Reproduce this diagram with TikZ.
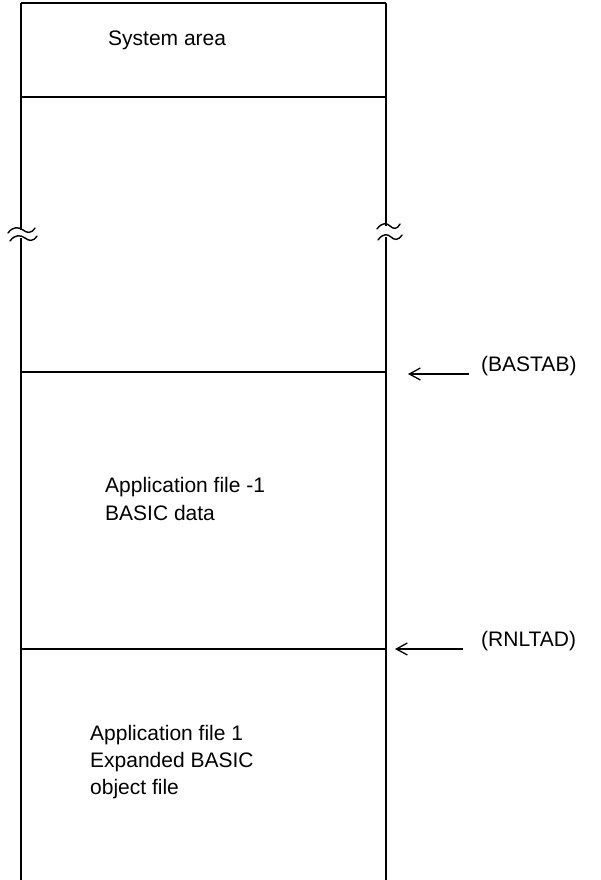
\documentclass[tikz,border=0pt]{standalone}
\usepackage{fontspec}
\setmainfont{Liberation Sans}
\usetikzlibrary{arrows.meta}
\begin{document}
\begin{tikzpicture}[x=1pt,y=-1pt,
  wall/.style={line width=1.6pt},
  brk/.style={line width=1.4pt, line cap=round},
  txt/.style={font=\fontsize{21}{27}\selectfont, anchor=base west, inner sep=0pt},
  ptr/.style={line width=1.3pt, -{Straight Barb[length=11pt,width=12pt]}}]
\useasboundingbox (0,0) rectangle (600,880);
% corner and break coordinates
\coordinate (tl) at (21,3);
\coordinate (tr) at (386,3);
\coordinate (lb1) at (21,230);
\coordinate (lb2) at (21,238);
\coordinate (rb1) at (386,226);
\coordinate (rb2) at (386,237);
\coordinate (bl) at (21,880);
\coordinate (br) at (386,880);
\coordinate (s1l) at (21,97);
\coordinate (s1r) at (386,97);
\coordinate (s2l) at (21,372);
\coordinate (s2r) at (386,372);
\coordinate (s3l) at (21,649);
\coordinate (s3r) at (386,649);
% outline
\draw[wall] (tl) -- (tr);
\draw[wall] (tl) -- (lb1);
\draw[wall] (lb2) -- (bl);
\draw[wall] (tr) -- (rb1);
\draw[wall] (rb2) -- (br);
\draw[wall] (s1l) -- (s1r);
\draw[wall] (s2l) -- (s2r);
\draw[wall] (s3l) -- (s3r);
% break marks
\draw[brk] (8,233) .. controls (13,226) and (19,227) .. (23,230) .. controls (27,233) and (31,234) .. (35,228);
\draw[brk] (10,241) .. controls (15,234) and (21,235) .. (25,238) .. controls (29,241) and (33,242) .. (37,236);
\draw[brk] (377,229) .. controls (382,222) and (387,223) .. (390,226) .. controls (393,229) and (397,230) .. (400,224);
\draw[brk] (378,240) .. controls (383,233) and (388,234) .. (391,237) .. controls (394,240) and (398,241) .. (402,235);
% texts
\node[txt] (sys) at (108,46) {System area};
\node[txt] (a1a) at (105,492) {Application file -1};
\node[txt] (a1b) at (105,520) {BASIC data};
\node[txt] (a2a) at (90,740) {Application file 1};
\node[txt] (a2b) at (90,767) {Expanded BASIC};
\node[txt] (a2c) at (90,794) {object file};
% pointers
\node[txt] (bastab) at (481,371) {(BASTAB)};
\node[txt] (rnltad) at (481,646) {(RNLTAD)};
\coordinate (pbt) at (469,374);
\coordinate (pb) at (408,374);
\coordinate (prt) at (463,649);
\coordinate (pr) at (395,649);
\draw[ptr] (pbt) -- (pb);
\draw[ptr] (prt) -- (pr);
\end{tikzpicture}
\end{document}
